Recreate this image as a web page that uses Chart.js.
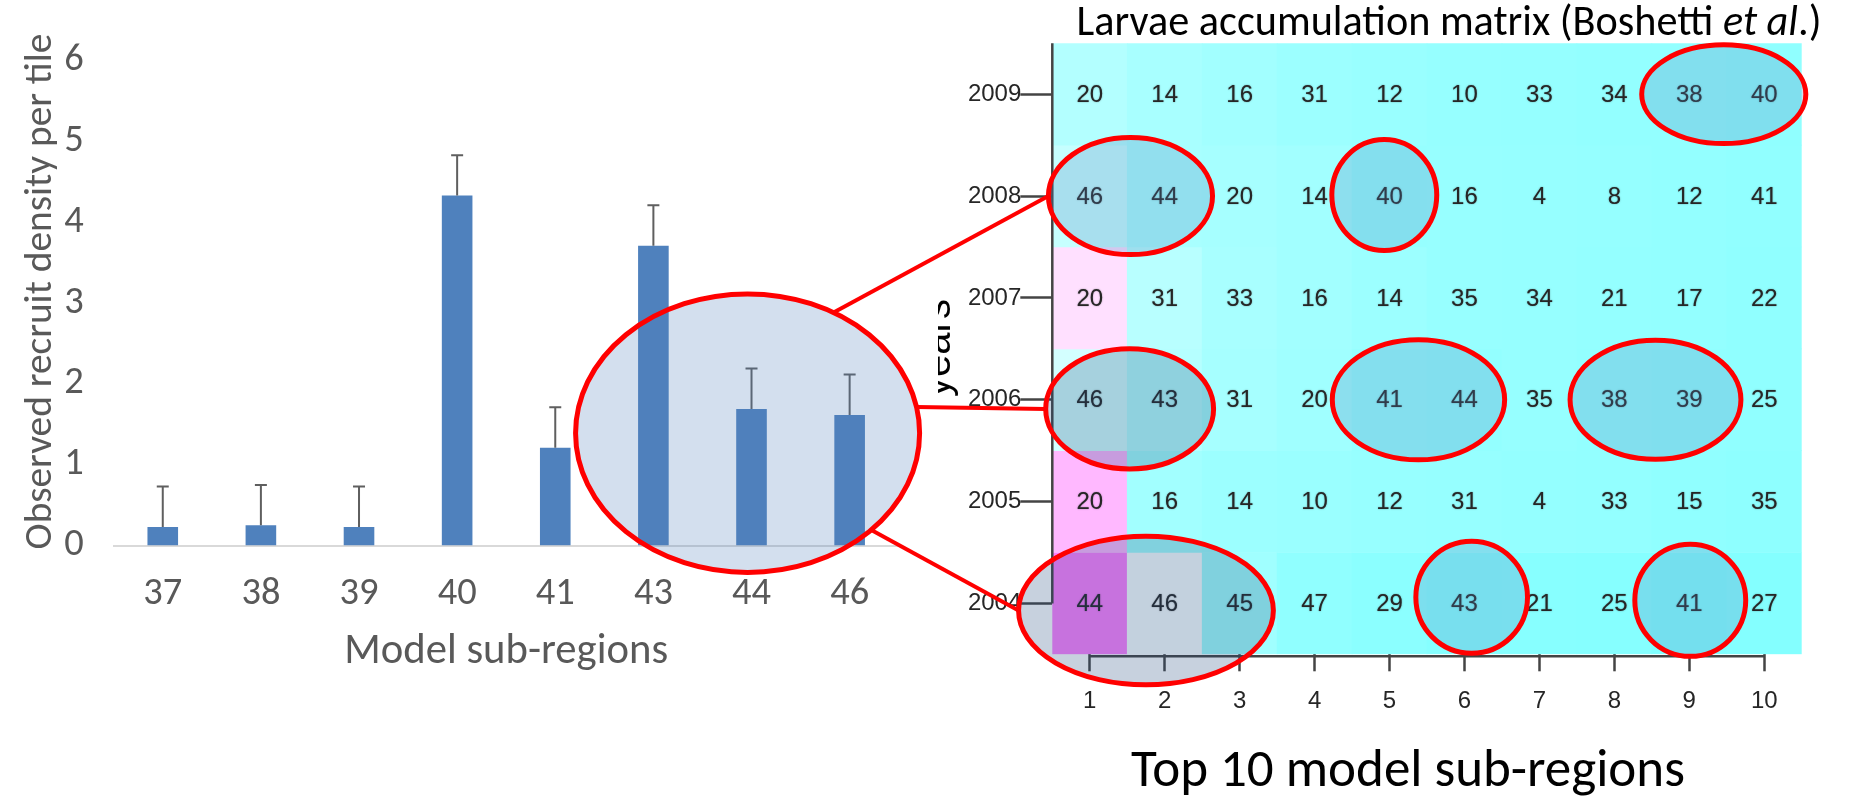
<!DOCTYPE html>
<html><head><meta charset="utf-8">
<script src="https://cdn.jsdelivr.net/npm/chart.js@4.4.1/dist/chart.umd.min.js"></script>
<style>
html,body{margin:0;padding:0;background:#fff;}
#wrap{position:relative;width:1849px;height:797px;overflow:hidden;background:#fff}
#wrap canvas{position:absolute;left:0;top:0}
</style></head><body>
<div id="wrap"><canvas id="bars" width="1849" height="797"></canvas><canvas id="matrix" width="1849" height="797"></canvas></div>
<script>
// ---------- data: left bar chart ----------
const regions = ['37','38','39','40','41','43','44','46'];
const density = [0.23, 0.25, 0.23, 4.33, 1.21, 3.71, 1.69, 1.615];
const densityError = [0.5, 0.5, 0.5, 0.5, 0.5, 0.5, 0.5, 0.5];
const densityTicks = [0, 1, 2, 3, 4, 5, 6];

// ---------- data: larvae accumulation matrix ----------
const ranks = ['1','2','3','4','5','6','7','8','9','10'];
const years = [2009, 2008, 2007, 2006, 2005, 2004];
const topRegions = [
  [20, 14, 16, 31, 12, 10, 33, 34, 38, 40],
  [46, 44, 20, 14, 40, 16, 4, 8, 12, 41],
  [20, 31, 33, 16, 14, 35, 34, 21, 17, 22],
  [46, 43, 31, 20, 41, 44, 35, 38, 39, 25],
  [20, 16, 14, 10, 12, 31, 4, 33, 15, 35],
  [44, 46, 45, 47, 29, 43, 21, 25, 41, 27]
];
// relative accumulation (0 = low, 1 = high)
const accumulation = [
  [0.20, 0.16, 0.135, 0.11, 0.10, 0.09, 0.083, 0.075, 0.075, 0.066],
  [0.275, 0.16, 0.15, 0.134, 0.09, 0.094, 0.087, 0.083, 0.075, 0.07],
  [0.62, 0.22, 0.157, 0.134, 0.11, 0.094, 0.087, 0.08, 0.075, 0.063],
  [0.327, 0.21, 0.15, 0.126, 0.088, 0.075, 0.087, 0.075, 0.07, 0.063],
  [0.78, 0.134, 0.11, 0.102, 0.094, 0.087, 0.08, 0.075, 0.063, 0.055],
  [1.0, 0.48, 0.127, 0.063, 0.047, 0.024, 0.031, 0.024, 0.0, 0.016]
];

// ---------- styling helpers ----------
const FONT = 'Carlito, Lato, sans-serif';
const RFONT = '"Liberation Sans", Arial, sans-serif';
const meas = document.createElement('canvas').getContext('2d');
function fitSize(text, family, target, style) {
  meas.font = (style || 'normal') + ' 100px ' + family;
  return 100 * target / meas.measureText(text).width;
}
function cmColor(v) { // R cm.colors: cyan -> white -> magenta
  if (v <= 0.5) { const r = Math.round(127.5 + 255 * v); return 'rgb(' + r + ',255,255)'; }
  const g = Math.round(255 - 255 * (v - 0.5)); return 'rgb(255,' + g + ',255)';
}
const tickSize = fitSize('37', FONT, 39);
const yTitleSize = fitSize('Observed recruit density per tile', FONT, 516);
const xTitleSize = fitSize('Model sub-regions', FONT, 324);
const GREY = '#595959';

// ---------- error bars ----------
const errorBarPlugin = {
  id: 'errorBars',
  afterDatasetsDraw(chart) {
    const ctx = chart.ctx, ys = chart.scales.y;
    const meta = chart.getDatasetMeta(0);
    ctx.save();
    ctx.strokeStyle = '#5f5f5f'; ctx.lineWidth = 2;
    meta.data.forEach((el, i) => {
      const top = ys.getPixelForValue(density[i] + densityError[i]);
      ctx.beginPath();
      ctx.moveTo(el.x, el.y); ctx.lineTo(el.x, top);
      ctx.moveTo(el.x - 6, top); ctx.lineTo(el.x + 6, top);
      ctx.stroke();
    });
    ctx.restore();
  }
};

const xBottom = 652 + 0.6 * xTitleSize;
const barChart = new Chart(document.getElementById('bars'), {
  type: 'bar',
  data: { labels: regions, datasets: [{ data: density, backgroundColor: '#4F81BD', borderWidth: 0, barPercentage: 0.312, categoryPercentage: 1 }] },
  options: {
    responsive: false, animation: false, events: [],
    layout: { padding: { left: 0, top: 37.5, right: 950.3, bottom: 797 - xBottom } },
    plugins: { legend: { display: false }, tooltip: { enabled: false } },
    scales: {
      x: {
        grid: { display: false, drawTicks: false },
        border: { display: true, color: '#D9D9D9', width: 2 },
        ticks: { color: GREY, font: { family: FONT, size: tickSize }, padding: 594 - 545.5 - 0.6 * tickSize },
        title: { display: true, text: 'Model sub-regions', color: GREY, font: { family: FONT, size: xTitleSize }, padding: 0 },
        afterFit(s) { s.height = xBottom - 545.5; }
      },
      y: {
        min: 0, max: 6.286,
        afterBuildTicks(s) { s.ticks = densityTicks.map(v => ({ value: v })); },
        grid: { display: false, drawTicks: false },
        border: { display: false },
        ticks: { color: GREY, font: { family: FONT, size: tickSize }, padding: 30 },
        title: { display: true, text: 'Observed recruit density per tile', color: GREY, font: { family: FONT, size: yTitleSize }, padding: { top: 41 - 0.6 * yTitleSize, bottom: 0 } },
        afterFit(s) { s.width = 113.7; s.paddingTop = 0; s.paddingBottom = 0; }
      }
    }
  },
  plugins: [errorBarPlugin]
});

// ---------- highlight rings (annotation, in data units) ----------
const BLUE_TINT = 'rgba(79,129,189,0.25)';
const DARK_TINT = 'rgba(31,73,125,0.25)';
const barRing = { index: 5.96, value: 1.39, rx: 1.753, ry: 1.723 };
const matrixRings = [
  { col: 1.543, year: 2008, rx: 1.095, ry: 0.575, tint: BLUE_TINT },
  { col: 4.93, year: 2008.01, rx: 0.70, ry: 0.545, tint: BLUE_TINT },
  { col: 9.46, year: 2009, rx: 1.095, ry: 0.485, tint: BLUE_TINT },
  { col: 1.532, year: 2005.91, rx: 1.12, ry: 0.59, tint: DARK_TINT },
  { col: 1.75, year: 2003.93, rx: 1.70, ry: 0.73, tint: DARK_TINT },
  { col: 5.386, year: 2006, rx: 1.15, ry: 0.59, tint: BLUE_TINT },
  { col: 8.549, year: 2006, rx: 1.14, ry: 0.585, tint: BLUE_TINT },
  { col: 6.096, year: 2004.06, rx: 0.745, ry: 0.55, tint: BLUE_TINT },
  { col: 9.013, year: 2004.03, rx: 0.74, ry: 0.55, tint: BLUE_TINT }
];
const links = [{ angle: -60, ring: 0 }, { angle: -10.8, ring: 3 }, { angle: 44, ring: 4 }];

const titleSegs = [
  { t: 'Larvae accumulation matrix (Boshetti ', s: 'normal' },
  { t: 'et al', s: 'italic' },
  { t: '.)', s: 'normal' }
];
function richWidth(segs, size) {
  let w = 0;
  segs.forEach(g => { meas.font = g.s + ' ' + size + 'px ' + FONT; w += meas.measureText(g.t).width; });
  return w;
}
const mTitleSize = 100 * 745 / richWidth(titleSegs, 100);
const bottomTitle = 'Top 10 model sub-regions';
const bTitleSize = fitSize(bottomTitle, FONT, 554);

function ringPx(r, xs, ys) {
  const cx = xs.getPixelForValue(r.col - 1), cy = ys.getPixelForValue(r.year);
  const rx = xs.getPixelForValue(r.col - 1 + r.rx) - cx;
  const ry = ys.getPixelForValue(r.year - r.ry) - cy;
  return { cx, cy, rx, ry };
}

const matrixPlugin = {
  id: 'matrixDecor',
  afterDatasetsDraw(chart) {
    const ctx = chart.ctx;
    ctx.save();
    ctx.fillStyle = '#262626';
    ctx.font = '24px ' + RFONT;
    ctx.textAlign = 'center'; ctx.textBaseline = 'middle';
    ctx.shadowColor = 'rgba(40,40,40,0.55)'; ctx.shadowBlur = 1.5;
    years.forEach((yr, r) => {
      chart.getDatasetMeta(r).data.forEach((el, c) => {
        const p = el.getCenterPoint();
        ctx.fillText(String(topRegions[r][c]), p.x, p.y + 1);
      });
    });
    ctx.restore();
  },
  afterDraw(chart) {
    const ctx = chart.ctx, xs = chart.scales.x, ys = chart.scales.y, area = chart.chartArea;
    ctx.save();
    // R-style axis lines
    ctx.strokeStyle = '#444'; ctx.lineWidth = 2.5;
    ctx.beginPath();
    ctx.moveTo(xs.getPixelForValue(0), area.bottom + 2);
    ctx.lineTo(xs.getPixelForValue(ranks.length - 1), area.bottom + 2);
    ctx.moveTo(area.left, area.top);
    ctx.lineTo(area.left, ys.getPixelForValue(years[years.length - 1]));
    ctx.stroke();
    // partially hidden "years" label (cropped at its top)
    ctx.save();
    ctx.beginPath(); ctx.rect(938, 270, 30, 150); ctx.clip();
    ctx.translate(950, 348); ctx.rotate(-Math.PI / 2);
    ctx.fillStyle = '#000'; ctx.font = '40px ' + RFONT;
    ctx.textAlign = 'center'; ctx.textBaseline = 'alphabetic';
    ctx.fillText('years', 0, 0);
    ctx.restore();
    // titles
    ctx.fillStyle = '#000'; ctx.textBaseline = 'alphabetic'; ctx.textAlign = 'left';
    let x = 1449 - richWidth(titleSegs, mTitleSize) / 2;
    titleSegs.forEach(g => {
      ctx.font = g.s + ' ' + mTitleSize + 'px ' + FONT;
      ctx.fillText(g.t, x, 35);
      x += ctx.measureText(g.t).width;
    });
    ctx.textAlign = 'center';
    ctx.font = bTitleSize + 'px ' + FONT;
    ctx.fillText(bottomTitle, 1408, 786);
    // rings on the matrix
    const rings = matrixRings.map(r => ringPx(r, xs, ys));
    ctx.lineWidth = 5; ctx.strokeStyle = '#FF0000';
    rings.forEach((p, i) => {
      ctx.beginPath(); ctx.ellipse(p.cx, p.cy, p.rx, p.ry, 0, 0, 2 * Math.PI);
      ctx.fillStyle = matrixRings[i].tint; ctx.fill(); ctx.stroke();
    });
    // ring on the bar chart
    const bx = barChart.scales.x, by = barChart.scales.y;
    const bcx = bx.getPixelForValue(barRing.index), bcy = by.getPixelForValue(barRing.value);
    const brx = bx.getPixelForValue(barRing.index + barRing.rx) - bcx;
    const bry = by.getPixelForValue(barRing.value - barRing.ry) - bcy;
    ctx.beginPath(); ctx.ellipse(bcx, bcy, brx, bry, 0, 0, 2 * Math.PI);
    ctx.fillStyle = BLUE_TINT; ctx.fill(); ctx.stroke();
    // connecting lines
    ctx.lineWidth = 4;
    links.forEach(l => {
      const a = l.angle * Math.PI / 180, t = rings[l.ring];
      ctx.beginPath();
      ctx.moveTo(bcx + brx * Math.cos(a), bcy + bry * Math.sin(a));
      ctx.lineTo(t.cx - t.rx, t.cy);
      ctx.stroke();
    });
    ctx.restore();
  }
};

const matrixChart = new Chart(document.getElementById('matrix'), {
  type: 'bar',
  data: {
    labels: ranks,
    datasets: years.map((yr, r) => ({
      data: ranks.map(() => [yr - 0.5, yr + 0.5]),
      backgroundColor: accumulation[r].map(cmColor),
      borderWidth: 0, barPercentage: 1, categoryPercentage: 1, grouped: false
    }))
  },
  options: {
    responsive: false, animation: false, events: [],
    layout: { padding: { left: 952.3, right: 47.3, top: 43.3, bottom: 62.7 } },
    plugins: { legend: { display: false }, tooltip: { enabled: false } },
    scales: {
      x: {
        offset: true,
        grid: { display: true, drawOnChartArea: false, drawTicks: true, tickLength: 17, offset: false, color: '#444', tickColor: '#444', tickWidth: 2.5 },
        border: { display: false },
        ticks: { color: '#262626', font: { family: RFONT, size: 24 }, padding: 16 },
        afterFit(s) { s.height = 80; }
      },
      y: {
        min: 2003.5, max: 2009.5,
        afterBuildTicks(s) { s.ticks = years.map(v => ({ value: v })); },
        grid: { display: true, drawOnChartArea: false, drawTicks: true, tickLength: 32, color: '#444', tickColor: '#444', tickWidth: 2.5 },
        border: { display: false },
        ticks: { color: '#262626', font: { family: RFONT, size: 24 }, padding: -1, callback: v => String(v) },
        afterFit(s) { s.width = 100; s.paddingTop = 0; s.paddingBottom = 0; }
      }
    }
  },
  plugins: [matrixPlugin]
});
</script>
</body></html>
